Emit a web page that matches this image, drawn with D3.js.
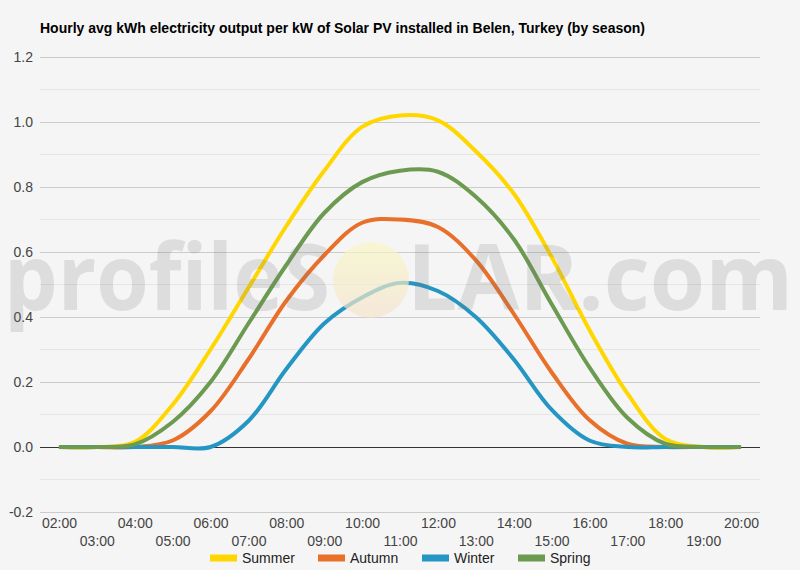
<!DOCTYPE html>
<html>
<head>
<meta charset="utf-8">
<script src="https://cdn.jsdelivr.net/npm/d3@7"></script>
<style>
  body { margin: 0; background: #f5f5f5; }
  svg { display: block; font-family: Arial, "Liberation Sans", sans-serif; }
</style>
</head>
<body>
<svg id="chart"></svg>
<script>
const hours = ['02:00','03:00','04:00','05:00','06:00','07:00','08:00','09:00','10:00','11:00',
               '12:00','13:00','14:00','15:00','16:00','17:00','18:00','19:00','20:00'];
const summer = [0, 0, 0.015, 0.13, 0.30, 0.49, 0.68, 0.85, 0.985, 1.02, 1.005, 0.91, 0.78, 0.585, 0.36, 0.165, 0.025, 0, 0];
const autumn = [0, 0, 0, 0.02, 0.11, 0.27, 0.45, 0.59, 0.69, 0.70, 0.677, 0.575, 0.41, 0.23, 0.083, 0.01, 0, 0, 0];
const winter = [0, 0, 0, 0, 0, 0.08, 0.24, 0.38, 0.46, 0.505, 0.48, 0.40, 0.27, 0.115, 0.02, 0, 0, 0, 0];
const spring = [0, 0, 0.008, 0.077, 0.20, 0.38, 0.56, 0.72, 0.815, 0.85, 0.847, 0.77, 0.64, 0.44, 0.245, 0.09, 0.01, 0, 0];
const seasons = ['Summer', 'Autumn', 'Winter', 'Spring'];
const seriesValues = [summer, autumn, winter, spring];
const colors = ['#ffd700', '#e8702a', '#2596c4', '#6c9a50'];
const yTicks = [-0.2, 0, 0.2, 0.4, 0.6, 0.8, 1.0, 1.2];
const yMinor = [-0.1, 0.1, 0.3, 0.5, 0.7, 0.9, 1.1];

class SeasonPlot {
    constructor(config) {
        this.config = {
            parent: config.parent,
            width: config.width || 800,
            height: config.height || 570,
            margin: config.margin || {top: 57, right: 40, bottom: 58, left: 40},
            title: config.title || ''
        };
        this.init();
    }

    init() {
        let self = this;
        const c = self.config;

        self.svg = d3.select(c.parent)
            .attr('width', c.width)
            .attr('height', c.height);

        self.svg.append('rect')
            .attr('width', c.width).attr('height', c.height)
            .attr('fill', '#f5f5f5');

        self.inner_width = c.width - c.margin.left - c.margin.right;
        self.inner_height = c.height - c.margin.top - c.margin.bottom;

        self.chart = self.svg.append('g')
            .attr('transform', `translate(${c.margin.left}, ${c.margin.top})`);

        self.xscale = d3.scalePoint()
            .domain(hours)
            .range([0, self.inner_width])
            .padding(0.5);

        self.yscale = d3.scaleLinear()
            .domain([-0.2, 1.2])
            .range([self.inner_height, 0]);

        self.svg.append('text')
            .attr('x', c.margin.left)
            .attr('y', 33)
            .style('font-size', '14px')
            .style('font-weight', 'bold')
            .attr('fill', '#000')
            .text(c.title);
    }

    render() {
        let self = this;

        // minor gridlines
        self.chart.append('g').selectAll('line')
            .data(yMinor).join('line')
            .attr('x1', 0).attr('x2', self.inner_width)
            .attr('y1', d => self.yscale(d)).attr('y2', d => self.yscale(d))
            .attr('stroke', '#e5e5e5');

        const yaxis = d3.axisLeft(self.yscale)
            .tickValues(yTicks)
            .tickFormat(d => d.toFixed(1))
            .tickSize(-self.inner_width)
            .tickPadding(7);

        const yg = self.chart.append('g').call(yaxis);
        yg.select('.domain').remove();
        yg.selectAll('.tick line')
            .attr('stroke', d => d === 0 ? '#333' : '#ccc');
        yg.selectAll('.tick text')
            .style('font-size', '14px')
            .style('font-family', 'Arial, "Liberation Sans", sans-serif')
            .attr('fill', '#444');

        // x labels, staggered on two rows
        const xaxis = d3.axisBottom(self.xscale).tickSize(0);
        const xg = self.chart.append('g')
            .attr('transform', `translate(0, ${self.inner_height})`)
            .call(xaxis);
        xg.select('.domain').remove();
        xg.selectAll('.tick text')
            .attr('y', (d, i) => i % 2 === 0 ? 16 : 34)
            .attr('dy', 0)
            .style('font-size', '14px')
            .style('font-family', 'Arial, "Liberation Sans", sans-serif')
            .attr('fill', '#444');

        // lines
        const line = d3.line()
            .x((d, i) => self.xscale(hours[i]))
            .y(d => self.yscale(d))
            .curve(d3.curveCatmullRom.alpha(0.5));

        self.chart.append('g').selectAll('path')
            .data(seriesValues).join('path')
            .attr('d', line)
            .attr('fill', 'none')
            .attr('stroke', (d, i) => colors[i])
            .attr('stroke-width', 4)
            .attr('stroke-linejoin', 'round');

        self.watermark();
        self.legend();
    }

    watermark() {
        let self = this;
        const defs = self.svg.append('defs');
        const grad = defs.append('linearGradient')
            .attr('id', 'sun').attr('x1', 0).attr('y1', 0).attr('x2', 0).attr('y2', 1);
        grad.append('stop').attr('offset', '0%').attr('stop-color', '#f9f7c4');
        grad.append('stop').attr('offset', '100%').attr('stop-color', '#f6e3cc');

        const wm = self.svg.append('g').attr('opacity', 0.85);
        wm.append('circle')
            .attr('cx', 371).attr('cy', 280).attr('r', 38)
            .attr('fill', 'url(#sun)').attr('opacity', 0.8);
        const wtext = [['profileS', 4, 326], ['LAR.com', 407, 386]];
        wm.selectAll('text')
            .data(wtext).join('text')
            .attr('x', d => d[1])
            .attr('y', 310)
            .attr('textLength', d => d[2])
            .attr('lengthAdjust', 'spacingAndGlyphs')
            .style('font-family', '"Open Sans", Arial, sans-serif')
            .style('font-weight', 'bold')
            .style('font-size', '92px')
            .attr('fill', 'rgba(120,120,120,0.22)')
            .text(d => d[0]);
    }

    legend() {
        let self = this;
        const xs = [210, 318, 422, 518];
        const lg = self.svg.append('g').selectAll('g')
            .data(seasons).join('g')
            .attr('transform', (d, i) => `translate(${xs[i]}, 558)`);
        lg.append('line')
            .attr('x1', 0).attr('x2', 27)
            .attr('stroke', (d, i) => colors[i])
            .attr('stroke-width', 7);
        lg.append('text')
            .attr('x', 32).attr('y', 5)
            .style('font-size', '14px')
            .attr('fill', '#222')
            .text(d => d);
    }
}

const plot = new SeasonPlot({
    parent: '#chart',
    title: 'Hourly avg kWh electricity output per kW of Solar PV installed in Belen, Turkey (by season)'
});
plot.render();
</script>
</body>
</html>
